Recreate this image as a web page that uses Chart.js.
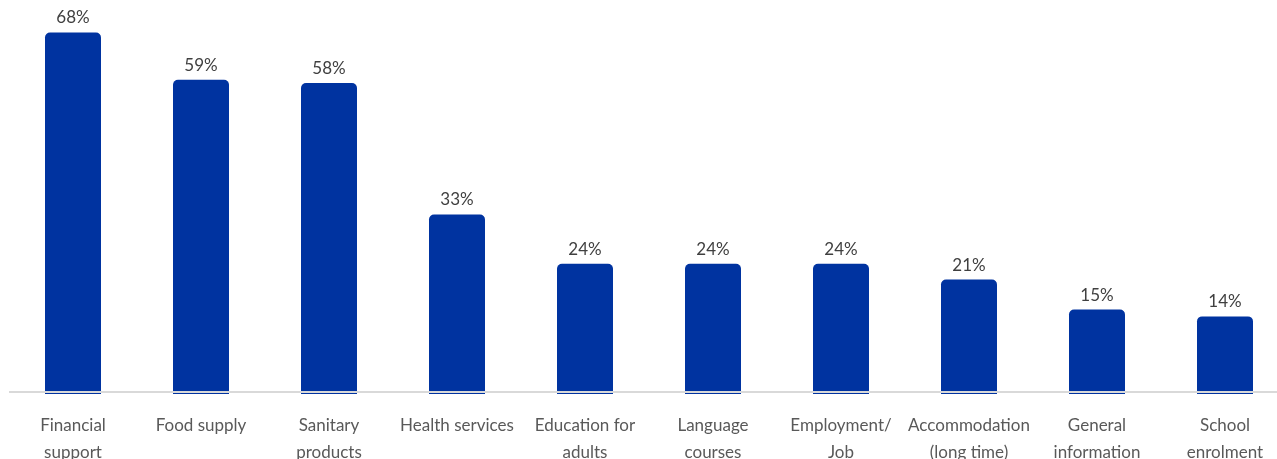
<!DOCTYPE html>
<html lang="en">
<head>
  <meta charset="UTF-8">
  <title>Support needs</title>
  <script src="https://cdn.jsdelivr.net/npm/chart.js"></script>
  <style>
    html, body { margin: 0; padding: 0; background: #fff; overflow: hidden; }
    .wrap { position: relative; width: 1289px; height: 480px; }
  </style>
</head>
<body>
  <div class="wrap">
    <canvas id="chart-1"></canvas>
  </div>

  <script>
    // categories (multi-line labels) and percentages
    const categories = [
      ['Financial', 'support'],
      ['Food supply'],
      ['Sanitary', 'products'],
      ['Health services'],
      ['Education for', 'adults'],
      ['Language', 'courses'],
      ['Employment/', 'Job'],
      ['Accommodation', '(long time)'],
      ['General', 'information'],
      ['School', 'enrolment']
    ];
    const shares = [68, 59, 58.4, 33.4, 24, 24, 24, 21, 15.3, 14];

    const barBlue = '#0033a0';

    // value labels above each bar
    const valueLabels = {
      id: 'valueLabels',
      afterDatasetsDraw(chart) {
        const ctx = chart.ctx;
        const meta = chart.getDatasetMeta(0);
        ctx.save();
        ctx.font = '17px Lato, sans-serif';
        ctx.fillStyle = '#404040';
        ctx.textAlign = 'center';
        ctx.textBaseline = 'bottom';
        meta.data.forEach((bar, i) => {
          ctx.fillText(Math.round(shares[i]) + '%', bar.x, bar.y - 6);
        });
        // light baseline drawn over the bar feet
        const y = chart.chartArea.bottom - 2;
        ctx.strokeStyle = '#d9d9d9';
        ctx.lineWidth = 2;
        ctx.beginPath();
        ctx.moveTo(chart.chartArea.left, y);
        ctx.lineTo(chart.width, y);
        ctx.stroke();
        ctx.restore();
      }
    };

    const chart = new Chart(document.getElementById('chart-1'), {
      type: 'bar',
      data: {
        labels: categories,
        datasets: [{
          data: shares,
          base: -0.76,
          backgroundColor: barBlue,
          borderRadius: 5,
          barPercentage: 0.4375,
          categoryPercentage: 1
        }]
      },
      options: {
        responsive: true,
        maintainAspectRatio: false,
        animation: false,
        layout: { padding: { left: 9, right: 0, top: 22, bottom: 0 } },
        plugins: {
          legend: { display: false },
          tooltip: { enabled: false }
        },
        scales: {
          x: {
            grid: { display: false, drawTicks: false },
            border: { display: false },
            afterFit(scale) { scale.height = 86; },
            ticks: {
              color: '#595959',
              padding: 18,
              maxRotation: 0,
              autoSkip: false,
              font: { family: 'Lato, sans-serif', size: 17, lineHeight: 1.6 }
            }
          },
          y: {
            display: false,
            min: -0.76,
            max: 70
          }
        }
      },
      plugins: [valueLabels]
    });
  </script>
</body>
</html>
